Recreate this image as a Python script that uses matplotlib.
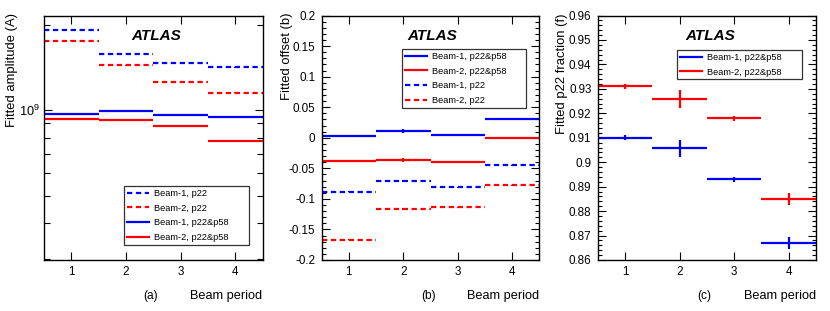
import matplotlib
matplotlib.use("Agg")
import matplotlib.pyplot as plt
import numpy as np
from matplotlib.lines import Line2D
from matplotlib.ticker import MultipleLocator, FixedLocator, NullFormatter, FixedFormatter

plt.rcParams['font.family'] = ['Liberation Sans', 'DejaVu Sans']
plt.rcParams['mathtext.fontset'] = 'custom'
plt.rcParams['mathtext.rm'] = 'Liberation Sans'

periods = [1, 2, 3, 4]

# (a) fitted amplitude
amp_b1_p22 = [1.92e9, 1.58e9, 1.47e9, 1.42e9]
amp_b2_p22 = [1.76e9, 1.44e9, 1.255e9, 1.155e9]
amp_b1_both = [0.968e9, 0.992e9, 0.966e9, 0.947e9]
amp_b2_both = [0.930e9, 0.924e9, 0.883e9, 0.782e9]
amp_b1_p22_err = [0.004e9, 0.004e9, 0.004e9, 0.004e9]
amp_b2_p22_err = [0.004e9, 0.004e9, 0.004e9, 0.004e9]
amp_b1_both_err = [0.004e9, 0.008e9, 0.003e9, 0.003e9]
amp_b2_both_err = [0.004e9, 0.008e9, 0.003e9, 0.003e9]

# (b) fitted offset
off_b1_both = [0.003, 0.011, 0.005, 0.030]
off_b2_both = [-0.038, -0.036, -0.040, 0.0]
off_b1_p22 = [-0.088, -0.071, -0.081, -0.045]
off_b2_p22 = [-0.167, -0.117, -0.114, -0.078]
off_b1_both_err = [0.001, 0.004, 0.001, 0.001]
off_b2_both_err = [0.001, 0.003, 0.001, 0.001]
off_b1_p22_err = [0.001, 0.002, 0.001, 0.001]
off_b2_p22_err = [0.001, 0.002, 0.001, 0.001]

# (c) fitted p22 fraction
frac_b1 = [0.910, 0.9057, 0.893, 0.867]
frac_b2 = [0.931, 0.926, 0.918, 0.885]
frac_b1_err = [0.0010, 0.0035, 0.0010, 0.0026]
frac_b2_err = [0.0010, 0.0037, 0.0010, 0.0026]

offset_ticks = [-0.2, -0.15, -0.1, -0.05, 0, 0.05, 0.1, 0.15, 0.2]
offset_labels = ['-0.2', '-0.15', '-0.1', '-0.05', '0', '0.05', '0.1', '0.15', '0.2']

BLUE = (0, 0, 1)
RED = (1, 0, 0)
LW = 1.6
DASH = (0, (2.4, 1.6))
FS = 8.4

W, H = 830, 311
fig = plt.figure(figsize=(W / 100, H / 100), dpi=100)


def px_axes(left, right, top=15.5, bottom=260):
    return fig.add_axes([left / W, 1 - bottom / H, (right - left) / W, (bottom - top) / H])


def draw_series(ax, y, err, color, ls):
    x = np.array(periods, dtype=float)
    y = np.array(y)
    err = np.array(err)
    ax.hlines(y, x - 0.5, x + 0.5, colors=[color], linewidth=LW, linestyles=[ls])
    ax.vlines(x, y - err, y + err, colors=[color], linewidth=LW)


def style_axes(ax):
    ax.set_xlim(0.5, 4.5)
    ax.xaxis.set_major_locator(FixedLocator(periods))
    ax.tick_params(which='both', direction='in', top=True, right=True,
                   labelsize=FS, width=0.8, pad=4.5)
    ax.tick_params(which='major', length=5.5)
    ax.tick_params(which='minor', length=2.8)
    ax.tick_params(axis='x', which='minor', bottom=False, top=False)
    for s in ax.spines.values():
        s.set_linewidth(1.0)


def labels(ax, left, right, ylabel, letter, ylabel_x):
    fig.text(ylabel_x / W, 1 - 13 / H, ylabel, rotation=90, ha='center', va='top',
             fontsize=9.4)
    fig.text(right / W, 1 - 296 / H, 'Beam period', ha='right', va='center', fontsize=9.2)
    fig.text((left + 107) / W, 1 - 296 / H, letter, ha='center', va='center', fontsize=8.6)


def atlas(ax, xc):
    fig.text(xc / W, 1 - 36 / H, 'ATLAS', ha='center', va='center', fontsize=11,
             fontweight='bold', fontstyle='italic')


def legend(ax, items, left, right, top, bottom):
    handles = [Line2D([], [], color=c, lw=LW, linestyle=ls) for c, ls, _ in items]
    names = [n for _, _, n in items]
    leg = ax.legend(handles, names, loc='upper left',
                    bbox_to_anchor=(left / W, 1 - bottom / H, (right - left) / W, (bottom - top) / H),
                    bbox_transform=fig.transFigure, mode='expand', fontsize=6.7,
                    frameon=True, fancybox=False, borderpad=0.3, labelspacing=0.62,
                    handlelength=2.4, handletextpad=0.55, borderaxespad=0)
    leg.get_frame().set_edgecolor('black')
    leg.get_frame().set_linewidth(0.9)


# ---------- (a)
la, ra = 44, 262.5
ax1 = px_axes(la, ra)
draw_series(ax1, amp_b1_p22, amp_b1_p22_err, BLUE, DASH)
draw_series(ax1, amp_b2_p22, amp_b2_p22_err, RED, DASH)
draw_series(ax1, amp_b1_both, amp_b1_both_err, BLUE, '-')
draw_series(ax1, amp_b2_both, amp_b2_both_err, RED, '-')
ax1.set_yscale('log')
ax1.set_ylim(2.97e8, 2.16e9)
style_axes(ax1)
ax1.yaxis.set_major_locator(FixedLocator([1e9]))
ax1.yaxis.set_major_formatter(FixedFormatter([r'$10^{9}$']))
ax1.yaxis.set_minor_locator(FixedLocator([3e8, 4e8, 5e8, 6e8, 7e8, 8e8, 9e8, 2e9]))
ax1.yaxis.set_minor_formatter(NullFormatter())
ax1.tick_params(axis='y', which='minor', length=4)
ax1.tick_params(axis='y', which='major', labelsize=9.2, pad=3)
labels(ax1, la, ra, 'Fitted amplitude (A)', '(a)', 12)
atlas(ax1, 156)
legend(ax1, [(BLUE, DASH, 'Beam-1, p22'), (RED, DASH, 'Beam-2, p22'),
             (BLUE, '-', 'Beam-1, p22&p58'), (RED, '-', 'Beam-2, p22&p58')],
       124, 249, 186, 246)

# ---------- (b)
lb, rb = 321.7, 539.3
ax2 = px_axes(lb, rb)
draw_series(ax2, off_b1_both, off_b1_both_err, BLUE, '-')
draw_series(ax2, off_b2_both, off_b2_both_err, RED, '-')
draw_series(ax2, off_b1_p22, off_b1_p22_err, BLUE, DASH)
draw_series(ax2, off_b2_p22, off_b2_p22_err, RED, DASH)
ax2.set_ylim(-0.2, 0.2)
style_axes(ax2)
ax2.yaxis.set_major_locator(FixedLocator(offset_ticks))
ax2.yaxis.set_major_formatter(FixedFormatter(offset_labels))
ax2.yaxis.set_minor_locator(MultipleLocator(0.01))
labels(ax2, lb, rb, 'Fitted offset (b)', '(b)', 287)
atlas(ax2, 432)
legend(ax2, [(BLUE, '-', 'Beam-1, p22&p58'), (RED, '-', 'Beam-2, p22&p58'),
             (BLUE, DASH, 'Beam-1, p22'), (RED, DASH, 'Beam-2, p22')],
       402, 526, 49, 109)

# ---------- (c)
lc, rc = 597.7, 816
ax3 = px_axes(lc, rc)
draw_series(ax3, frac_b1, frac_b1_err, BLUE, '-')
draw_series(ax3, frac_b2, frac_b2_err, RED, '-')
ax3.set_ylim(0.86, 0.96)
style_axes(ax3)
ax3.yaxis.set_major_locator(MultipleLocator(0.01))
ax3.yaxis.set_minor_locator(MultipleLocator(0.002))
ax3.yaxis.set_major_formatter(matplotlib.ticker.FuncFormatter(
    lambda v, p: '0.9' if abs(v - 0.9) < 1e-9 else '%.2f' % v))
labels(ax3, lc, rc, 'Fitted p22 fraction (f)', '(c)', 562)
atlas(ax3, 710)
legend(ax3, [(BLUE, '-', 'Beam-1, p22&p58'), (RED, '-', 'Beam-2, p22&p58')],
       677, 802, 50, 77)

fig.savefig('out.png', dpi=100)
